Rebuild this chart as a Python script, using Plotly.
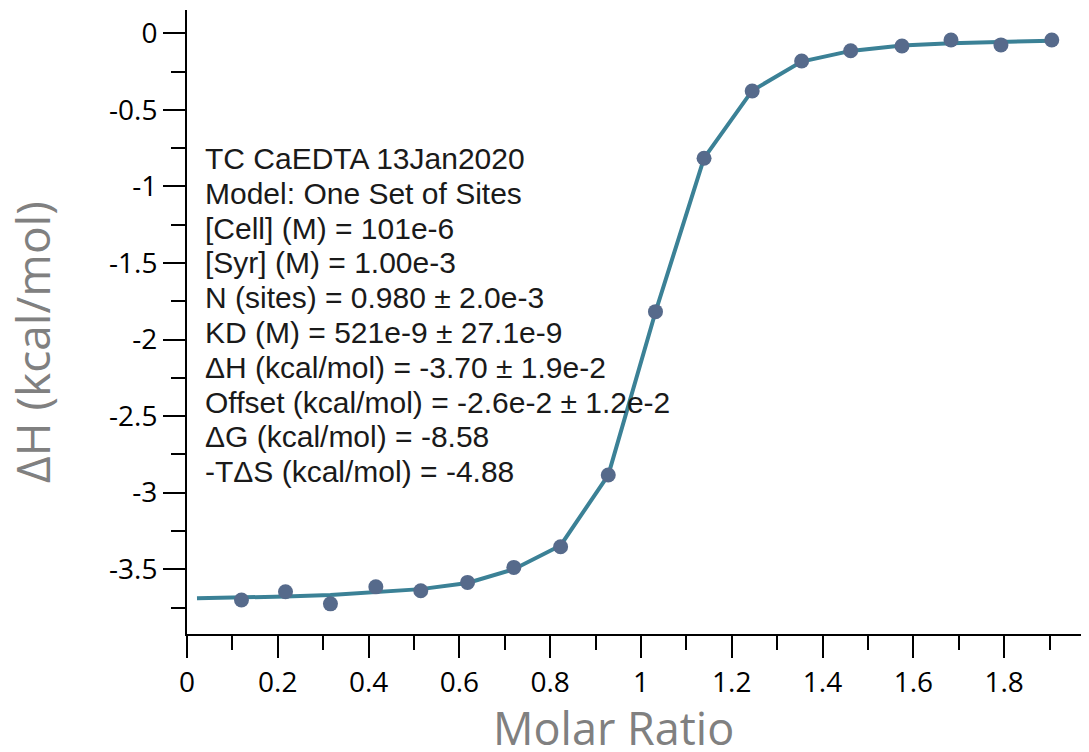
import plotly.graph_objects as go

# ---- data ----
inj_x = [0.120, 0.217, 0.316, 0.416, 0.515, 0.618, 0.720, 0.823, 0.928, 1.032,
         1.139, 1.245, 1.354, 1.462, 1.575, 1.683, 1.793, 1.905]
inj_y = [-3.701, -3.647, -3.726, -3.615, -3.641, -3.586, -3.488, -3.353, -2.885, -1.818,
         -0.816, -0.377, -0.181, -0.114, -0.083, -0.044, -0.076, -0.044]

fit_x = [0.022, 0.120, 0.217, 0.316, 0.416, 0.515, 0.618, 0.720, 0.823, 0.928, 1.032,
         1.139, 1.245, 1.354, 1.462, 1.575, 1.683, 1.793, 1.905]
fit_y = [-3.690, -3.686, -3.678, -3.668, -3.652, -3.630, -3.590, -3.500, -3.345, -2.885, -1.820,
         -0.815, -0.375, -0.185, -0.115, -0.080, -0.065, -0.055, -0.048]

y_tickvals = [0, -0.5, -1, -1.5, -2, -2.5, -3, -3.5]
y_ticktext = ["0", "-0.5", "-1", "-1.5", "-2", "-2.5", "-3", "-3.5"]
x_tickvals = [0, 0.2, 0.4, 0.6, 0.8, 1.0, 1.2, 1.4, 1.6, 1.8]
x_ticktext = ["0", "0.2", "0.4", "0.6", "0.8", "1", "1.2", "1.4", "1.6", "1.8"]

info_lines = [
    "TC CaEDTA 13Jan2020",
    "Model: One Set of Sites",
    "[Cell] (M) = 101e-6",
    "[Syr] (M) = 1.00e-3",
    "N (sites) = 0.980 ± 2.0e-3",
    "KD (M) = 521e-9 ± 27.1e-9",
    "ΔH (kcal/mol) = -3.70 ± 1.9e-2",
    "Offset (kcal/mol) = -2.6e-2 ± 1.2e-2",
    "ΔG (kcal/mol) = -8.58",
    "-TΔS (kcal/mol) = -4.88",
]
x_title = "Molar Ratio"
y_title = "ΔH (kcal/mol)"

# ---- layout geometry ----
# The page body has an 8px margin, so the figure is drawn 8px in from the corner.
OFF = 8
W, H = 1089 - OFF, 752 - OFF
PLOT_L, PLOT_T, PLOT_B = 187, 10, 634          # page pixel positions of the plot frame
ML, MR, MT, MB = PLOT_L - OFF, 0, PLOT_T - OFF, H - (PLOT_B - OFF)
PW, PH = W - ML - MR, H - MT - MB


def page_to_paper(px, py):
    return (px - OFF - ML) / PW, (H - MB - (py - OFF)) / PH


fig = go.Figure()
fig.add_trace(go.Scatter(x=fit_x, y=fit_y, mode="lines",
                         line=dict(color="#3b8196", width=4), hoverinfo="skip",
                         showlegend=False))
fig.add_trace(go.Scatter(x=inj_x, y=inj_y, mode="markers",
                         marker=dict(color="#566a8b", size=15), showlegend=False))

annotations = []
line_gap = 34.8
first_py = 158.5
for i, t in enumerate(info_lines):
    xp, yp = page_to_paper(203, first_py + i * line_gap)
    annotations.append(dict(text=t, x=xp, y=yp, xref="paper", yref="paper",
                            xanchor="left", yanchor="middle", showarrow=False,
                            font=dict(family="Liberation Sans, Arial", size=30, color="#1a1a1a")))

xp, yp = page_to_paper(613.5, 727)
annotations.append(dict(text=x_title, x=xp, y=yp, xref="paper", yref="paper",
                        xanchor="center", yanchor="middle", showarrow=False,
                        font=dict(family="Open Sans", size=45, color="#808080")))
xp, yp = page_to_paper(32, 342)
annotations.append(dict(text=y_title, x=xp, y=yp, xref="paper", yref="paper",
                        xanchor="center", yanchor="middle", showarrow=False, textangle=-90,
                        font=dict(family="Open Sans", size=46, color="#808080")))

axis_common = dict(showline=True, linecolor="black", linewidth=2, showgrid=False,
                   zeroline=False, ticks="outside", ticklen=22, tickwidth=2,
                   tickcolor="black", tickfont=dict(family="Open Sans", size=28, color="black"))

fig.update_layout(
    width=W, height=H,
    margin=dict(l=ML, r=MR, t=MT, b=MB, autoexpand=False),
    paper_bgcolor="white", plot_bgcolor="white",
    annotations=annotations,
    xaxis=dict(range=[0, 1.987], tickmode="array", tickvals=x_tickvals, ticktext=x_ticktext,
               minor=dict(dtick=0.1, tick0=0, ticks="outside", ticklen=14, tickwidth=2,
                          tickcolor="black", showgrid=False),
               **axis_common),
    yaxis=dict(range=[-3.923, 0.152], tickmode="array", tickvals=y_tickvals, ticktext=y_ticktext,
               minor=dict(dtick=0.25, tick0=0, ticks="outside", ticklen=14, tickwidth=2,
                          tickcolor="black", showgrid=False),
               **axis_common),
)

fig.write_html("out.html")
